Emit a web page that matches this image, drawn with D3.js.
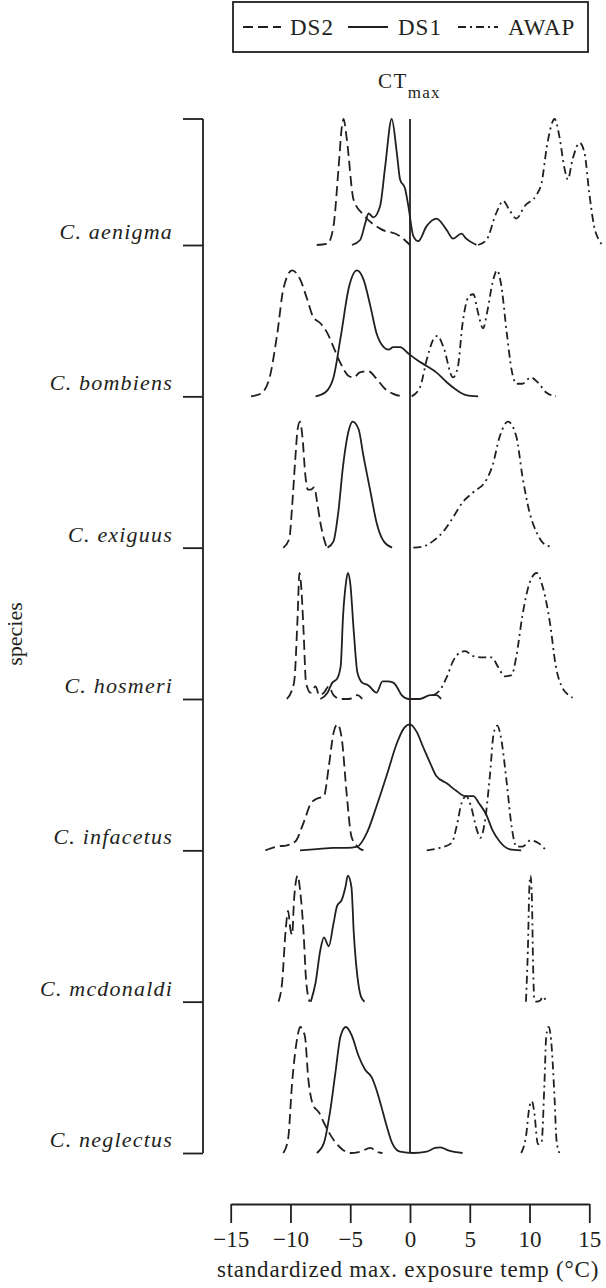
<!DOCTYPE html>
<html>
<head>
<meta charset="utf-8">
<script src="https://cdn.jsdelivr.net/npm/d3@7"></script>
<style>
  html, body { margin: 0; padding: 0; background: #fff; }
  svg { display: block; }
  text { font-family: "Liberation Serif", "Times New Roman", serif; fill: #231f20; }
</style>
</head>
<body>
<svg id="chart" width="606" height="1288"></svg>
<script>
// ---------- DATA ----------
const species = ["C. aenigma", "C. bombiens", "C. exiguus", "C. hosmeri", "C. infacetus", "C. mcdonaldi", "C. neglectus"];
const seriesNames = ["DS2", "DS1", "AWAP"];
const xTicks = [-15, -10, -5, 0, 5, 10, 15];

// relative density curves: [temperature °C, relative height 0..1]
const ds2_aenigma = [[-7.8,0],[-6.9,0.01],[-6.4,0.15],[-5.97,0.62],[-5.7,0.94],[-5.56,1],[-5.3,0.85],[-4.72,0.36],[-3.9,0.24],[-2.5,0.13],[-0.83,0.07],[0,0]];
const ds1_aenigma = [[-4.86,0],[-4.17,0.04],[-3.75,0.17],[-3.47,0.25],[-3.06,0.22],[-2.5,0.31],[-2.08,0.62],[-1.53,1],[-1.1,0.73],[-0.83,0.52],[-0.42,0.45],[-0.14,0.31],[0.28,0.07],[0.69,0.03],[1.39,0.15],[2.22,0.21],[3.06,0.12],[3.6,0.05],[4.3,0.09],[4.7,0.05],[5.56,0]];
const awap_aenigma = [[5.7,0],[6.4,0.04],[7.2,0.25],[7.8,0.35],[8.3,0.28],[8.9,0.21],[9.6,0.31],[10.6,0.4],[11.0,0.49],[11.5,0.81],[12.1,1],[12.5,0.86],[12.9,0.62],[13.2,0.52],[13.6,0.68],[14.2,0.81],[14.6,0.73],[15.0,0.41],[15.4,0.15],[15.8,0.04],[16.1,0]];

const ds2_bombiens = [[-13.3,0],[-12.5,0.02],[-11.8,0.13],[-11.1,0.5],[-10.6,0.85],[-9.86,1],[-9.2,0.93],[-8.6,0.77],[-8.1,0.63],[-7.5,0.58],[-6.9,0.5],[-6.4,0.39],[-5.8,0.26],[-5.1,0.16],[-4.7,0.15],[-4.2,0.19],[-3.5,0.2],[-2.8,0.14],[-2.1,0.06],[-1.4,0.02],[-0.7,0]];
const ds1_bombiens = [[-7.9,0],[-7.1,0.03],[-6.4,0.15],[-5.8,0.47],[-5.1,0.87],[-4.44,1],[-3.9,0.93],[-3.3,0.71],[-2.8,0.5],[-2.2,0.39],[-1.8,0.37],[-1.4,0.39],[-0.83,0.39],[-0.14,0.34],[0.56,0.29],[1.4,0.24],[2.2,0.19],[3.1,0.11],[3.9,0.05],[4.7,0.01],[5.7,0]];
const awap_bombiens = [[0.14,0],[0.83,0.07],[1.4,0.29],[1.94,0.45],[2.3,0.48],[2.8,0.39],[3.6,0.15],[4.0,0.23],[4.4,0.58],[4.9,0.79],[5.3,0.81],[5.7,0.66],[6.1,0.54],[6.5,0.69],[6.9,0.9],[7.3,1],[7.6,0.9],[8.1,0.5],[8.5,0.21],[8.9,0.1],[9.4,0.1],[10.1,0.15],[10.7,0.11],[11.4,0.03],[12.2,0]];

const ds2_exiguus = [[-10.6,0],[-10.1,0.07],[-9.86,0.33],[-9.6,0.7],[-9.4,0.94],[-9.2,1],[-9.0,0.88],[-8.75,0.57],[-8.55,0.46],[-8.3,0.46],[-8.0,0.48],[-7.8,0.38],[-7.5,0.2],[-7.2,0.07],[-7.0,0.01]];
const ds1_exiguus = [[-6.9,0],[-6.4,0.05],[-6.0,0.28],[-5.6,0.65],[-5.1,0.94],[-4.8,1],[-4.3,0.94],[-3.9,0.73],[-3.3,0.44],[-2.8,0.2],[-2.2,0.05],[-1.5,0]];
const awap_exiguus = [[0.28,0],[1.1,0.01],[1.9,0.05],[2.8,0.13],[3.6,0.24],[4.4,0.36],[5.3,0.44],[6.4,0.54],[6.9,0.65],[7.5,0.88],[8.2,1],[8.9,0.88],[9.4,0.57],[10.0,0.28],[10.6,0.12],[11.1,0.04],[11.7,0.01]];

const ds2_hosmeri = [[-10.3,0],[-9.7,0.13],[-9.4,0.66],[-9.25,1],[-9.1,0.89],[-8.9,0.53],[-8.7,0.13],[-8.3,0.05],[-7.9,0.1],[-7.6,0.03],[-7.2,0.05],[-6.8,0.1],[-6.4,0.03],[-5.8,0],[-5.1,0],[-4.4,0.03],[-4.0,0]];
const ds1_hosmeri = [[-7.5,0],[-6.9,0.05],[-6.5,0.13],[-6.1,0.16],[-5.8,0.26],[-5.6,0.66],[-5.36,0.92],[-5.2,1],[-5.0,0.92],[-4.7,0.53],[-4.4,0.21],[-4.0,0.13],[-3.5,0.11],[-2.8,0.05],[-2.3,0.14],[-1.9,0.14],[-1.4,0.13],[-1.0,0.08],[-0.7,0.03],[-0.14,0],[0.8,0],[1.7,0.03],[2.2,0.03],[2.6,0]];
const awap_hosmeri = [[1.9,0.03],[2.5,0.07],[3.1,0.18],[3.6,0.3],[4.2,0.37],[4.6,0.38],[5.3,0.34],[6.1,0.33],[6.8,0.33],[7.4,0.25],[7.9,0.18],[8.5,0.19],[8.9,0.34],[9.4,0.66],[10.0,0.92],[10.6,1],[11.1,0.89],[11.7,0.61],[12.2,0.26],[12.8,0.08],[13.3,0.03],[13.6,0.01]];

const ds2_infacetus = [[-12.1,0],[-11.1,0.03],[-10.3,0.04],[-9.6,0.07],[-8.9,0.22],[-8.3,0.37],[-7.8,0.41],[-7.2,0.43],[-6.8,0.66],[-6.4,0.93],[-6.06,1],[-5.7,0.88],[-5.3,0.45],[-4.9,0.11],[-4.4,0.03],[-3.9,0]];
const ds1_infacetus = [[-9.2,0],[-7.8,0.01],[-6.4,0.02],[-5.3,0.02],[-4.4,0.03],[-3.6,0.14],[-2.8,0.35],[-1.9,0.61],[-1.1,0.85],[-0.5,0.97],[0,1],[0.56,0.94],[1.1,0.82],[1.7,0.69],[2.2,0.59],[3.1,0.53],[3.9,0.47],[4.6,0.43],[5.3,0.43],[5.8,0.37],[6.4,0.28],[6.9,0.16],[7.5,0.07],[8.3,0.01],[9.3,0]];
const awap_infacetus = [[1.4,0],[2.5,0.02],[3.5,0.06],[3.9,0.19],[4.3,0.37],[4.7,0.43],[5.1,0.35],[5.6,0.16],[5.9,0.1],[6.25,0.22],[6.7,0.61],[7.0,0.93],[7.3,0.99],[7.6,0.9],[8.1,0.53],[8.5,0.19],[8.9,0.03],[9.4,0.03],[10.1,0.08],[10.7,0.06],[11.4,0]];

const ds2_mcdonaldi = [[-11.0,0],[-10.7,0.15],[-10.4,0.57],[-10.2,0.72],[-10.0,0.57],[-9.86,0.53],[-9.7,0.81],[-9.4,1],[-9.2,0.89],[-8.9,0.54],[-8.7,0.18],[-8.4,0]];
const ds1_mcdonaldi = [[-8.3,0],[-7.9,0.15],[-7.5,0.41],[-7.2,0.51],[-6.8,0.44],[-6.4,0.62],[-6.1,0.76],[-5.7,0.81],[-5.4,0.91],[-5.2,1],[-4.9,0.91],[-4.7,0.54],[-4.4,0.2],[-4.1,0.04],[-3.8,0]];
const awap_mcdonaldi = [[9.7,0],[9.86,0.41],[10.0,0.94],[10.08,1],[10.2,0.81],[10.3,0.28],[10.4,0.02],[10.6,0],[10.9,0.01],[11.1,0.04],[11.4,0]];

const ds2_neglectus = [[-10.6,0],[-10.2,0.11],[-9.86,0.56],[-9.4,0.93],[-9.2,1],[-8.8,0.93],[-8.5,0.58],[-8.1,0.38],[-7.6,0.32],[-7.2,0.24],[-6.7,0.15],[-5.8,0.04],[-5.0,0],[-4.2,0.01],[-3.3,0.04],[-2.8,0.01],[-2.3,0]];
const ds1_neglectus = [[-7.8,0],[-7.2,0.08],[-6.7,0.32],[-6.25,0.63],[-5.8,0.93],[-5.36,1],[-4.86,0.93],[-4.3,0.77],[-3.75,0.66],[-3.2,0.6],[-2.8,0.5],[-2.4,0.37],[-1.94,0.21],[-1.5,0.08],[-0.83,0.01],[0.28,0],[1.4,0.01],[2.1,0.04],[2.55,0.045],[3.2,0.02],[4.4,0]];
const awap_neglectus = [[9.3,0],[9.7,0.13],[10.0,0.37],[10.2,0.41],[10.4,0.32],[10.7,0.07],[11.0,0.08],[11.25,0.56],[11.4,0.93],[11.6,1],[11.8,0.9],[12.1,0.42],[12.25,0.11],[12.5,0]];

const ds2Curves = [ds2_aenigma, ds2_bombiens, ds2_exiguus, ds2_hosmeri, ds2_infacetus, ds2_mcdonaldi, ds2_neglectus];
const ds1Curves = [ds1_aenigma, ds1_bombiens, ds1_exiguus, ds1_hosmeri, ds1_infacetus, ds1_mcdonaldi, ds1_neglectus];
const awapCurves = [awap_aenigma, awap_bombiens, awap_exiguus, awap_hosmeri, awap_infacetus, awap_mcdonaldi, awap_neglectus];

// ---------- LAYOUT ----------
const ink = "#231f20";
const lw = 1.8;
const svg = d3.select("#chart");
const x = d3.scaleLinear().domain([-15, 15]).range([230.7, 589.3]);
const yBase = d3.scalePoint().domain(species).range([245, 1153]);
const ridgeH = 126;
const h = d3.scaleLinear().domain([0, 1]).range([0, ridgeH]);
const dashes = { DS2: "10,5", DS1: null, AWAP: "8,4,2,4" };

// y axis (bracket)
const yAxisX = 203;
svg.append("line").attr("x1", yAxisX).attr("x2", yAxisX)
  .attr("y1", yBase(species[0]) - ridgeH).attr("y2", yBase(species[species.length - 1]))
  .attr("stroke", ink).attr("stroke-width", lw);
svg.append("line").attr("x1", yAxisX - 20).attr("x2", yAxisX)
  .attr("y1", yBase(species[0]) - ridgeH).attr("y2", yBase(species[0]) - ridgeH)
  .attr("stroke", ink).attr("stroke-width", lw);
const yAxis = svg.append("g").attr("transform", `translate(${yAxisX},0)`)
  .call(d3.axisLeft(yBase).tickSize(20).tickPadding(10));
yAxis.select(".domain").remove();
yAxis.selectAll(".tick line").attr("stroke", ink).attr("stroke-width", lw);
yAxis.selectAll(".tick text")
  .attr("dy", "-0.3em")
  .style("font-family", '"Liberation Serif", serif')
  .style("font-style", "italic").style("font-size", "22px").style("letter-spacing", "1.2px")
  .attr("fill", ink);

// y axis title
svg.append("text").attr("transform", "translate(22,634) rotate(-90)")
  .attr("text-anchor", "middle").style("font-size", "22px").text("species");

// x axis
const xAxisY = 1204;
const xAxis = svg.append("g").attr("transform", `translate(0,${xAxisY})`)
  .call(d3.axisBottom(x).tickValues(xTicks).tickSizeInner(19).tickSizeOuter(0).tickPadding(8)
    .tickFormat(d => d < 0 ? "\u2212" + Math.abs(d) : String(d)));
xAxis.select(".domain").attr("stroke", ink).attr("stroke-width", lw);
xAxis.selectAll(".tick line").attr("stroke", ink).attr("stroke-width", lw);
xAxis.selectAll(".tick text").style("font-family", '"Liberation Serif", serif')
  .style("font-size", "23px").attr("fill", ink);
svg.append("text").attr("x", 408).attr("y", 1277).attr("text-anchor", "middle")
  .style("font-size", "23px").style("letter-spacing", "0.8px")
  .text("standardized max. exposure temp (\u00B0C)");

// CTmax reference line
svg.append("line").attr("x1", x(0)).attr("x2", x(0))
  .attr("y1", yBase(species[0]) - ridgeH).attr("y2", yBase(species[species.length - 1]))
  .attr("stroke", ink).attr("stroke-width", lw);
const ct = svg.append("text").attr("x", 378).attr("y", 88).style("font-size", "21px").style("letter-spacing", "1.5px");
ct.append("tspan").text("CT");
ct.append("tspan").attr("dy", 10).style("font-size", "17px").style("letter-spacing", "1.2px").text("max");

// ridges
const line = d3.line().curve(d3.curveMonotoneX);
const groups = [["DS2", ds2Curves], ["DS1", ds1Curves], ["AWAP", awapCurves]];
species.forEach((sp, i) => {
  groups.forEach(([name, curves]) => {
    const pts = curves[i].map(([t, v]) => [x(t), yBase(sp) - h(v)]);
    svg.append("path").attr("d", line(pts))
      .attr("fill", "none").attr("stroke", ink).attr("stroke-width", lw)
      .attr("stroke-linejoin", "round")
      .attr("stroke-dasharray", dashes[name]);
  });
});

// legend
svg.append("rect").attr("x", 233).attr("y", 2).attr("width", 355).attr("height", 50)
  .attr("fill", "none").attr("stroke", ink).attr("stroke-width", lw);
const legItems = [
  { name: "DS2", x0: 243, x1: 281, tx: 290 },
  { name: "DS1", x0: 348, x1: 388, tx: 398 },
  { name: "AWAP", x0: 458, x1: 498, tx: 508 }
];
legItems.forEach(it => {
  svg.append("line").attr("x1", it.x0).attr("x2", it.x1).attr("y1", 27).attr("y2", 27)
    .attr("stroke", ink).attr("stroke-width", lw).attr("stroke-dasharray", dashes[it.name]);
  svg.append("text").attr("x", it.tx).attr("y", 35).style("font-size", "23px").style("letter-spacing", "1px").text(it.name);
});
</script>
</body>
</html>
